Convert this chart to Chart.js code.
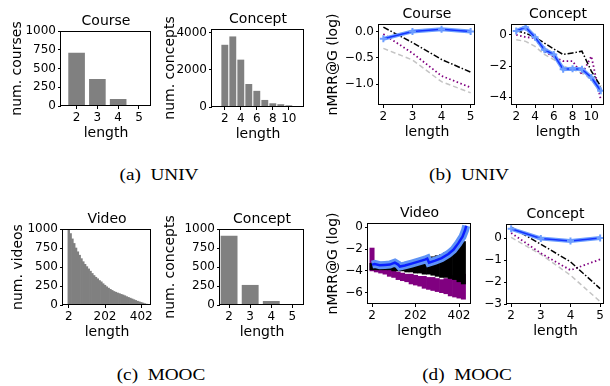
<!DOCTYPE html>
<html>
<head>
<meta charset="utf-8">
<script src="https://cdn.jsdelivr.net/npm/chart.js@4.4.1/dist/chart.umd.min.js"></script>
<style>
  html, body { margin: 0; padding: 0; background: #fff; width: 610px; height: 386px; overflow: hidden; }
  body { position: relative; }
  canvas { position: absolute; }
  #frames { left: 0; top: 0; z-index: 5; pointer-events: none; }
  .cap { position: absolute; width: 200px; text-align: center; font: 16px "Liberation Serif", serif; color: #000;
         line-height: 20px; transform: scaleX(1.2); transform-origin: 50% 50%; }
</style>
</head>
<body>
<canvas id="a1"></canvas>
<canvas id="a2"></canvas>
<canvas id="b1"></canvas>
<canvas id="b2"></canvas>
<canvas id="c1"></canvas>
<canvas id="c2"></canvas>
<canvas id="d1"></canvas>
<canvas id="d2"></canvas>
<canvas id="frames" width="610" height="386"></canvas>
<div class="cap" style="left:59px;top:165px">(a)&nbsp; UNIV</div>
<div class="cap" style="left:369px;top:165px">(b)&nbsp; UNIV</div>
<div class="cap" style="left:61px;top:365px">(c)&nbsp; MOOC</div>
<div class="cap" style="left:367px;top:365px">(d)&nbsp; MOOC</div>
<script>
// (a) UNIV - distribuição dos tamanhos
const univCourseLen = [2, 3, 4, 5];
const univCourseCount = [711, 360, 93, 13];
const univConceptLen = [2, 3, 4, 5, 6, 7, 8, 9, 10, 11];
const univConceptCount = [3350, 3800, 2550, 1240, 870, 380, 200, 150, 90, 30];

// (c) MOOC - distribuição dos tamanhos
const moocVideoLen = [2, 12, 22, 32, 42, 52, 62, 72, 82, 92, 102, 112, 122, 132, 142, 152, 162, 172, 182, 192,
  202, 212, 222, 232, 242, 252, 262, 272, 282, 292, 302, 312, 322, 332, 342, 352, 362, 372, 382, 392,
  402, 412, 422, 432, 442];
const moocVideoCount = [990, 940, 870, 810, 750, 700, 655, 610, 570, 535, 505, 475, 445, 415, 388, 365, 345, 322, 305, 280,
  260, 240, 222, 206, 192, 178, 168, 158, 150, 140, 132, 122, 110, 100, 90, 80, 70, 60, 50, 42,
  34, 26, 18, 11, 5];
const moocConceptLen = [2, 3, 4, 5];
const moocConceptCount = [912, 264, 53, 4];

// (b) UNIV - nMRR@G
const bCourseLen = [2, 3, 4, 5];
const bCourseBlue = [-0.14, 0.0, 0.04, 0.0];
const bCourseBlack = [0.08, -0.21, -0.53, -0.77];
const bCoursePurple = [-0.05, -0.41, -0.84, -1.06];
const bCourseGray = [-0.32, -0.54, -0.95, -1.16];
const bConceptLen = [2, 3, 4, 5, 6, 7, 8, 9, 10, 11];
const bConceptBlue = [0.25, 0.48, -0.15, -0.95, -1.26, -2.2, -2.17, -2.2, -2.73, -3.58];
const bConceptBlack = [0.27, 0.1, -0.15, -0.53, -0.91, -1.26, -1.16, -1.05, -2.32, -3.3];
const bConceptPurple = [0.0, -0.15, -0.21, -1.05, -1.41, -1.68, -1.68, -2.53, -1.37, -4.15];
const bConceptGray = [-0.32, -0.42, -0.74, -1.26, -1.58, -2.0, -2.21, -2.46, -2.84, -3.73];

// (d) MOOC - nMRR@G
const dVideoLen = [2, 14, 37, 61, 84, 107, 122, 130, 153, 184, 215, 245, 256, 264, 292, 322, 353, 376, 399, 418, 430, 435];
const dVideoBlue = [-3.42, -3.36, -3.48, -3.45, -3.42, -3.24, -3.42, -3.6, -3.5, -3.33, -3.15, -2.97, -2.88, -3.24, -3.06, -2.82, -2.45, -2.06, -1.45, -0.85, -0.24, 0.15];
const dVideoBandLen = [2, 22, 42, 62, 82, 102, 122, 142, 162, 182, 202, 222, 242, 262, 282, 302, 322, 342, 362, 382, 402, 422];
const dVideoBlackLow = [-3.9, -3.9, -3.9, -3.9, -3.9, -4.0, -4.0, -4.0, -4.1, -4.1, -4.2, -4.2, -4.3, -4.3, -4.4, -4.5, -4.6, -4.6, -4.7, -4.8, -5.0, -5.2];
const dVideoBlackHigh = [-3.3, -3.4, -3.4, -3.4, -3.4, -3.3, -3.5, -3.4, -3.3, -3.3, -3.1, -3.0, -2.9, -2.8, -2.7, -2.6, -2.5, -2.3, -2.1, -1.9, -1.6, -1.3];
const dVideoPurpleLow = [-4.0, -4.1, -4.2, -4.3, -4.5, -4.6, -4.8, -4.9, -5.0, -5.2, -5.3, -5.4, -5.6, -5.7, -5.8, -5.9, -6.0, -6.1, -6.3, -6.4, -6.5, -6.6];
const dVideoPurpleHigh = [-1.9, -3.4, -3.6, -3.7, -3.9, -4.0, -4.1, -4.2, -4.3, -4.3, -4.4, -4.5, -4.5, -4.6, -4.6, -4.7, -4.8, -4.7, -4.5, -4.4, -4.3, -4.3];
const dConceptLen = [2, 3, 4, 5];
const dConceptBlue = [0.42, -0.02, -0.13, 0.0];
const dConceptBlack = [0.5, -0.28, -1.08, -2.3];
const dConceptPurple = [0.23, -0.69, -1.46, -0.97];
const dConceptGray = [0.03, -0.74, -1.69, -2.89];

// ticks
const ticksCount = [0, 250, 500, 750, 1000];
const ticksConcept = [0, 2000, 4000];
const ticksLen5 = [2, 3, 4, 5];
const ticksLen10 = [2, 4, 6, 8, 10];
const ticksVideo = [2, 202, 402];
const ticksB1 = [-1.0, -0.5, 0.0];
const ticksB2 = [-4, -2, 0];
const ticksD1 = [-6, -4, -2, 0];
const ticksD2 = [-3, -2, -1, 0];

Chart.defaults.font.family = '"DejaVu Sans", sans-serif';
Chart.defaults.font.size = 12;
Chart.defaults.color = '#000';

const GRAY_BAR = '#808080';
const BLUE = '#1535ff';
const BLUE_LIGHT = '#6d9eff';
const PURPLE = '#800080';
const GRAY = '#c4c4c4';

const pts = (xs, ys) => xs.map((x, i) => ({ x: x, y: ys[i] }));
const minus = s => String(s).replace('-', '\u2212');

// textos (título, eixo x, eixo y)
const labels = {
  id: 'labels',
  afterDraw(chart, args, o) {
    const ctx = chart.ctx, a = chart.chartArea;
    ctx.save();
    ctx.fillStyle = '#000';
    ctx.font = '14px "DejaVu Sans"';
    ctx.textAlign = 'center';
    ctx.textBaseline = 'middle';
    const mid = (a.left + a.right) / 2;
    ctx.fillText(o.title, mid, a.top - 10);
    ctx.fillText('length', mid, a.bottom + 27);
    if (o.ylabel) {
      ctx.translate(o.ylabelX, (a.top + a.bottom) / 2);
      ctx.rotate(-Math.PI / 2);
      ctx.fillText(o.ylabel, 0, 0);
    }
    ctx.restore();
  }
};

// molduras desenhadas por cima de tudo
const frameCtx = document.getElementById('frames').getContext('2d');
function drawFrame(chart, offX, offY) {
  const a = chart.chartArea;
  const L = Math.round(a.left) + offX, T = Math.round(a.top) + offY;
  const R = Math.round(a.right) + offX, B = Math.round(a.bottom) + offY;
  frameCtx.fillStyle = '#000';
  frameCtx.fillRect(L - 1, T, R - L + 1, 1);
  frameCtx.fillRect(R - 1, T, 1, B - T);
  frameCtx.fillRect(L - 1, B - 1, R - L + 1, 1);
  frameCtx.fillRect(L - 1, T, 1, B - T);
}

function axis(dir, range, ticks, fmt, size) {
  return {
    type: 'linear', min: range[0], max: range[1], offset: false,
    grid: { display: true, drawOnChartArea: false, drawTicks: true, tickLength: 3, color: '#000', offset: false },
    border: { display: false },
    ticks: { padding: 2, maxRotation: 0, autoSkip: false, callback: fmt },
    afterBuildTicks: s => { s.ticks = ticks.map(v => ({ value: v })); },
    afterFit: s => {
      if (dir === 'x') s.height = size; else s.width = size;
      s.paddingLeft = s.paddingRight = s.paddingTop = s.paddingBottom = 0;
    }
  };
}

function panel(id, box, xr, yr, xt, yt, fmtY, text, datasets) {
  const padL = 60, padT = 25, padB = 40, padR = Math.min(4, 610 - box.r);
  const cv = document.getElementById(id);
  cv.width = box.r - box.l + padL + padR;
  cv.height = box.b - box.t + padT + padB;
  const offX = box.l - padL, offY = box.t - padT;
  cv.style.left = offX + 'px';
  cv.style.top = offY + 'px';
  text.ylabelX = text.ylabelX - offX;
  const chart = new Chart(cv, {
    type: 'line',
    data: { datasets: datasets },
    options: {
      responsive: false, animation: false,
      layout: { padding: { left: 0, top: padT, right: padR, bottom: 0 } },
      plugins: { legend: { display: false }, tooltip: { enabled: false }, labels: text },
      scales: {
        x: axis('x', xr, xt, v => v, padB),
        y: axis('y', yr, yt, fmtY, padL)
      }
    },
    plugins: [labels]
  });
  drawFrame(chart, offX, offY);
}

const bars = (xs, ys, w) => ({
  type: 'bar', data: pts(xs, ys), backgroundColor: GRAY_BAR, borderWidth: 0,
  barPercentage: w, categoryPercentage: 1
});

function nmrrLines(xs, blue, black, purple, gray) {
  return [
    { data: pts(xs, blue), borderColor: BLUE, borderWidth: 1.5, pointStyle: 'cross', pointRadius: 3.5,
      pointBorderColor: BLUE_LIGHT, pointBorderWidth: 2, tension: 0 },
    { data: pts(xs, blue), borderColor: BLUE_LIGHT, borderWidth: 4, pointRadius: 0 },
    { data: pts(xs, black), borderColor: '#000', borderWidth: 1.5, borderDash: [6, 2, 1.5, 2], pointRadius: 0 },
    { data: pts(xs, purple), borderColor: PURPLE, borderWidth: 1.8, borderDash: [1.5, 2.5], pointRadius: 0 },
    { data: pts(xs, gray), borderColor: GRAY, borderWidth: 1.5, borderDash: [5, 3], pointRadius: 0 }
  ];
}

const intFmt = v => minus(v);

// (a) UNIV
panel('a1', { l: 61, t: 31, r: 151, b: 106 }, [1.25, 5.58], [0, 1000], ticksLen5, ticksCount, intFmt,
  { title: 'Course', ylabel: 'num. courses', ylabelX: 17 },
  [bars(univCourseLen, univCourseCount, 0.8)]);
panel('a2', { l: 212, t: 29, r: 304, b: 107 }, [0.4, 11.9], [0, 4200], ticksLen10, ticksConcept, intFmt,
  { title: 'Concept', ylabel: 'num. concepts', ylabelX: 170 },
  [bars(univConceptLen, univConceptCount, 0.86)]);

// (b) UNIV
panel('b1', { l: 379, t: 24, r: 477, b: 105 }, [1.85, 5.15], [-1.39, 0.14], ticksLen5, ticksB1, v => minus(v.toFixed(1)),
  { title: 'Course', ylabel: 'nMRR@G (log)', ylabelX: 333 },
  nmrrLines(bCourseLen, bCourseBlue, bCourseBlack, bCoursePurple, bCourseGray));
panel('b2', { l: 512, t: 24, r: 609, b: 105 }, [1.55, 11.35], [-4.49, 0.69], ticksLen10, ticksB2, intFmt,
  { title: 'Concept', ylabelX: 0 },
  nmrrLines(bConceptLen, bConceptBlue, bConceptBlack, bConceptPurple, bConceptGray));

// (c) MOOC
panel('c1', { l: 63, t: 229, r: 151, b: 305 }, [-30, 456], [0, 1000], ticksVideo, ticksCount, intFmt,
  { title: 'Video', ylabel: 'num. videos', ylabelX: 18 },
  [bars(moocVideoLen, moocVideoCount, 1)]);
panel('c2', { l: 220, t: 229, r: 304, b: 305 }, [1.57, 5.55], [0, 1000], ticksLen5, ticksCount, intFmt,
  { title: 'Concept', ylabel: 'num. concepts', ylabelX: 170 },
  [bars(moocConceptLen, moocConceptCount, 0.8)]);

// (d) MOOC
const range = (lo, hi) => dVideoBandLen.map((x, i) => ({ x: x, y: [lo[i], hi[i]] }));
panel('d1', { l: 368, t: 223, r: 471, b: 304 }, [-16.5, 457], [-7.04, 0.4], ticksVideo, ticksD1, intFmt,
  { title: 'Video', ylabel: 'nMRR@G (log)', ylabelX: 333 },
  [
    { data: pts(dVideoLen, dVideoBlue), borderColor: '#0a1fff', borderWidth: 2.5, pointRadius: 0 },
    { data: pts(dVideoLen, dVideoBlue), borderColor: '#5f93f5', borderWidth: 8, pointRadius: 0 },
    { type: 'bar', data: range(dVideoBlackLow, dVideoBlackHigh), backgroundColor: '#000', grouped: false,
      barPercentage: 1, categoryPercentage: 1 },
    { type: 'bar', data: range(dVideoPurpleLow, dVideoPurpleHigh), backgroundColor: PURPLE, grouped: false,
      barPercentage: 1, categoryPercentage: 1 }
  ]);
panel('d2', { l: 507, t: 224, r: 609, b: 304 }, [1.86, 5.13], [-3, 0.64], ticksLen5, ticksD2, intFmt,
  { title: 'Concept', ylabelX: 0 },
  nmrrLines(dConceptLen, dConceptBlue, dConceptBlack, dConceptPurple, dConceptGray));
</script>
</body>
</html>
